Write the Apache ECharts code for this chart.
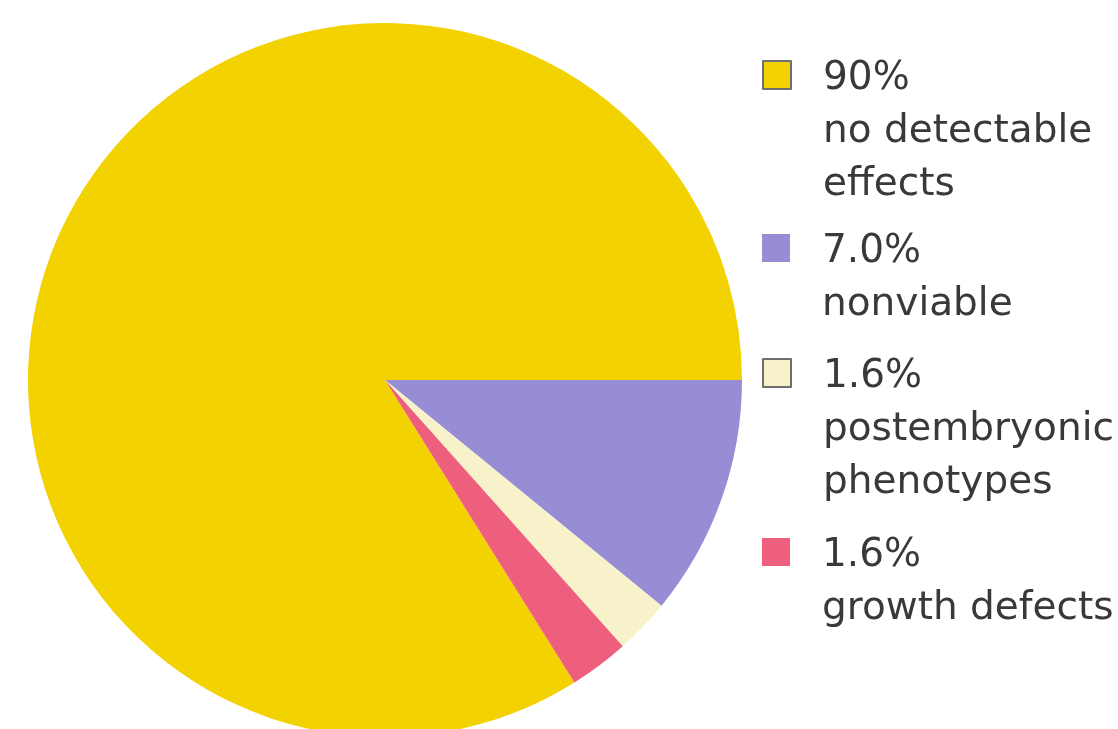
<!DOCTYPE html>
<html>
<head>
<meta charset="utf-8">
<script src="https://cdn.jsdelivr.net/npm/echarts@6/dist/echarts.min.js"></script>
<style>
html,body{margin:0;padding:0;background:#fff;}
#chart{width:1118px;height:729px;}
</style>
</head>
<body>
<div id="chart"></div>
<script>
// Categories in legend order
const categories = ['no detectable effects', 'nonviable', 'postembryonic phenotypes', 'growth defects'];
// Share of the circle each slice occupies as drawn in the picture (percent)
const sliceShares = [83.9, 10.9, 2.5, 2.7];
// Percent labels printed in the legend
const percentLabels = ['90%', '7.0%', '1.6%', '1.6%'];
// Description lines printed in the legend
const descLines = [['no detectable', 'effects'], ['nonviable'], ['postembryonic', 'phenotypes'], ['growth defects']];
const colors = ['#F2D200', '#968DD4', '#F7F2C9', '#EE5F7E'];
const iconBorder = [true, false, true, false];

const lh = 53;
const shift = 4;
const iconCenters = [75, 248, 373, 552];

const total = sliceShares.reduce((a, b) => a + b, 0);

const legends = categories.map((name, i) => {
  const lines = [percentLabels[i]].concat(descLines[i]);
  const n = lines.length;
  const d = n > 1 ? 2 * shift / (n - 1) : 0;
  // blank lines above so the first text line sits level with the icon
  const blanks = [];
  for (let k = 0; k < n - 1; k++) blanks.push('{b| }');
  const text = blanks.concat(lines.map(s => '{t|' + s + '}')).join('\n');
  const boxH = (n - 1) * (lh + d) + n * lh;
  return {
    orient: 'vertical',
    left: 762,
    top: iconCenters[i] - boxH / 2,
    padding: 0,
    itemWidth: 28,
    itemHeight: 28,
    icon: 'rect',
    selectedMode: false,
    data: [{
      name: name,
      itemStyle: iconBorder[i] ? { borderColor: '#6f6f6f', borderWidth: 2 } : { borderWidth: 0 }
    }],
    formatter: function () { return text; },
    textStyle: {
      fontFamily: 'DejaVu Sans',
      fontSize: 39,
      color: '#3a3839',
      lineHeight: lh,
      padding: [0, 0, 0, 27],
      rich: {
        b: { fontFamily: 'DejaVu Sans', fontSize: 39, lineHeight: lh + d },
        t: { fontFamily: 'DejaVu Sans', fontSize: 39, lineHeight: lh, color: '#3a3839' }
      }
    }
  };
});

const chart = echarts.init(document.getElementById('chart'));
chart.setOption({
  animation: false,
  backgroundColor: '#ffffff',
  color: colors,
  legend: legends,
  series: [{
    type: 'pie',
    center: [385, 380],
    radius: 357,
    startAngle: sliceShares[0] / total * 360,
    clockwise: true,
    silent: true,
    label: { show: false },
    labelLine: { show: false },
    itemStyle: { borderWidth: 0 },
    data: categories.map((name, i) => ({ name: name, value: sliceShares[i] }))
  }]
});
</script>
</body>
</html>
